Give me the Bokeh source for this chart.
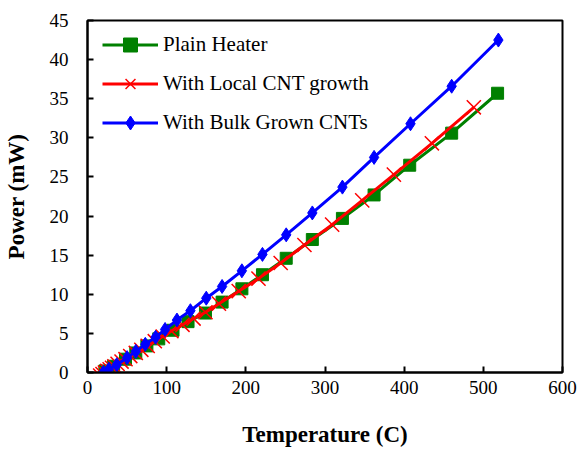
from bokeh.plotting import figure
from bokeh.models import Legend, LegendItem, FixedTicker, Range1d
from bokeh.embed import file_html
from bokeh.resources import INLINE

# Data
plain_x = [22, 33, 48, 61, 75, 90, 108, 127, 149, 170, 195, 221, 251, 284, 322, 362, 407, 460, 518]
plain_y = [0.2, 0.8, 1.7, 2.5, 3.4, 4.3, 5.4, 6.5, 7.6, 9.0, 10.7, 12.5, 14.6, 17.0, 19.7, 22.7, 26.5, 30.6, 35.7]

local_x = [16, 19, 22, 25, 28, 31, 34, 38, 43, 48, 54, 61, 68, 76, 85, 95, 106, 120, 134, 149,
           166, 191, 216, 244, 274, 309, 347, 387, 435, 488]
local_y = [-0.4, -0.2, 0.0, 0.2, 0.4, 0.6, 0.8, 1.1, 1.4, 1.7, 2.1, 2.5, 2.9, 3.4, 4.0, 4.6, 5.3, 6.1, 6.9, 7.7,
           8.8, 10.4, 12.0, 14.0, 16.3, 18.9, 22.0, 25.3, 29.3, 33.9]

bulk_x = [20, 27, 37, 50, 61, 73, 86, 98, 113, 130, 150, 170, 195, 221, 251, 284, 322, 362, 408, 460, 519]
bulk_y = [0.0, 0.4, 1.0, 1.9, 2.7, 3.6, 4.5, 5.5, 6.7, 7.9, 9.5, 11.0, 13.0, 15.1, 17.6, 20.4, 23.7, 27.5, 31.8, 36.6, 42.5]

x_ticks = [0, 100, 200, 300, 400, 500, 600]
y_ticks = [0, 5, 10, 15, 20, 25, 30, 35, 40, 45]

series_names = ["Plain Heater", "With Local CNT growth", "With Bulk Grown CNTs"]

FONT = "Liberation Serif"

p = figure(width=580, height=449, output_backend="svg", toolbar_location=None,
           x_range=Range1d(0, 600), y_range=Range1d(0, 45),
           min_border_left=87, min_border_right=18, min_border_top=20, min_border_bottom=75)
p.background_fill_color = "white"
p.border_fill_color = "white"
p.grid.visible = False
p.outline_line_color = "black"
p.outline_line_width = 2

# Series
g_line = p.line(plain_x, plain_y, line_color="#008000", line_width=3)
g_mark = p.scatter(plain_x, plain_y, marker="square", size=12, fill_color="#008000", line_color="#008000")

r_line = p.line(local_x, local_y, line_color="#ff0000", line_width=3)
r_mark = p.scatter(local_x, local_y, marker="x", size=20, line_color="#ff0000", line_width=1.5)

b_line = p.line(bulk_x, bulk_y, line_color="#0000ff", line_width=3)
b_mark = p.scatter(bulk_x, bulk_y, marker="diamond", size=14,
                   fill_color="#0000ff", line_color="#0000ff")

# Axes
for ax in (p.xaxis[0], p.yaxis[0]):
    ax.axis_line_color = "black"
    ax.axis_line_width = 2
    ax.major_tick_in = 6
    ax.major_tick_out = 0
    ax.major_tick_line_width = 2
    ax.minor_tick_line_color = None
    ax.major_label_text_font = FONT
    ax.major_label_text_font_size = "19px"
    ax.major_label_text_color = "black"
    ax.axis_label_text_font = FONT
    ax.axis_label_text_font_size = "23px"
    ax.axis_label_text_font_style = "bold"
    ax.axis_label_text_color = "black"

p.xaxis[0].ticker = FixedTicker(ticks=x_ticks)
p.yaxis[0].ticker = FixedTicker(ticks=y_ticks)
p.xaxis[0].axis_label = "Temperature (C)"
p.yaxis[0].axis_label = "Power (mW)"
p.xaxis[0].major_label_standoff = 8
p.yaxis[0].major_label_standoff = 19
p.xaxis[0].axis_label_standoff = 25
p.yaxis[0].axis_label_standoff = 18

legend = Legend(items=[
    LegendItem(label=series_names[0], renderers=[g_line, g_mark]),
    LegendItem(label=series_names[1], renderers=[r_line, r_mark]),
    LegendItem(label=series_names[2], renderers=[b_line, b_mark]),
], location=(7, 224))
legend.margin = 0
legend.padding = 8
legend.glyph_width = 56
legend.glyph_height = 35
legend.label_height = 20
legend.spacing = 4
legend.label_standoff = 5
legend.label_text_font = FONT
legend.label_text_font_size = "21px"
legend.label_text_color = "black"
legend.border_line_alpha = 0
legend.background_fill_alpha = 0
p.add_layout(legend)

open("out.html", "w").write(file_html(p, INLINE))
